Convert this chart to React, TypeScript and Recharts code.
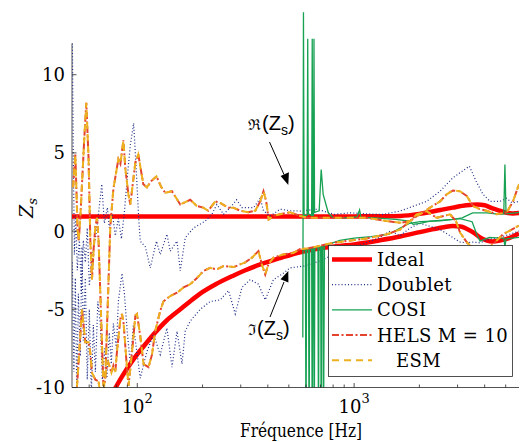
import { LineChart, Line, XAxis, YAxis, ReferenceLine, Legend } from "recharts";

// --- Ideal ---
const idealReFreq = [50, 500, 1000, 1300, 1629, 2000, 2240, 2500, 2850, 3300, 3700, 4000, 4350, 4700, 5050, 5400, 5760];
const idealRe = [0.94, 0.94, 0.94, 0.95, 0.97, 1.1, 1.22, 1.35, 1.5, 1.65, 1.7, 1.65, 1.45, 1.3, 1.17, 1.13, 1.15];
const idealImFreq = [78, 85, 96, 108, 119, 137, 158, 175, 195, 230, 277, 313, 369, 450, 564, 700, 850, 1000, 1300, 1629, 1950, 2240, 2600, 2850, 3100, 3300, 3600, 3808, 4100, 4330, 4700, 5180, 5500, 5760];
const idealIm = [-10.2, -9.3, -8.2, -7.3, -6.6, -5.7, -5.0, -4.5, -4.0, -3.4, -2.85, -2.52, -2.13, -1.75, -1.35, -1.1, -0.95, -0.85, -0.6, -0.35, -0.1, 0.08, 0.25, 0.32, 0.3, 0.15, -0.15, -0.4, -0.6, -0.66, -0.6, -0.45, -0.28, -0.15];

// --- Doublet ---
const doubletReFreq = [50.2, 50.7, 51.3, 52.0, 52.9, 54.1, 55.2, 56.4, 57.6, 58.8, 60.1, 62.1, 64.1, 66.1, 68.6, 70.5, 72.8, 74.3, 76.8, 79.2, 81.8, 84.5, 87.2, 90.0, 92.9, 96.2, 98.4, 101.5, 103.2, 108.9, 114.8, 122.6, 127.6, 137, 141.9, 152.5, 157.8, 166.4, 181.7, 205.8, 220.7, 232.8, 250, 268.3, 287, 304, 344, 369, 382, 410, 456, 507, 564, 675, 810, 958, 1144, 1365, 1629, 1880, 2160, 2491, 2850, 3150, 3400, 3650, 3930, 4235, 4709, 5050, 5360, 5760];
const doubletRe = [12.0, 5.0, -1.5, 1.0, -2.5, -0.5, -4.0, -0.6, -2.0, 0.2, -3.5, -1.5, -0.5, 1.0, 3.0, 0.5, 1.5, 0.2, 1.1, -0.3, 0.8, -0.5, 1.2, 3.5, 5.5, 6.9, 4.5, 0.85, -0.64, -1.0, -2.35, -0.64, -1.5, -0.2, -1.28, -0.64, -2.55, -0.43, 0.2, 0.64, 1.07, 1.7, 1.07, 1.5, 2.0, 1.5, 1.5, 2.1, 1.3, 0.96, 1.4, 1.3, 1.28, 1.4, 1.07, 1.17, 1.1, 1.07, 1.28, 1.6, 1.9, 2.55, 3.4, 3.83, 4.15, 3.2, 2.35, 1.9, 1.9, 2.1, 1.8, 1.9];
const doubletImFreq = [50.2, 51.0, 51.8, 52.6, 53.5, 54.6, 55.6, 56.4, 57.6, 58.8, 60.1, 61.4, 62.7, 64.1, 65.8, 67.6, 69.0, 70.9, 72.4, 74.3, 75.9, 77.6, 80.1, 81.8, 85.0, 87.2, 90.0, 92.9, 95.9, 98.0, 103.2, 110.8, 118.9, 127.6, 137.0, 144.6, 152.5, 160.8, 166.4, 175.5, 195.2, 217, 241.3, 263.6, 283, 304, 331.8, 362, 389, 424.6, 464, 507, 584, 698, 750, 862, 1066, 1318, 1465, 1629, 1812, 2015, 2240, 2491, 2770, 3080, 3300, 3510, 3808, 4235, 4709, 5237, 5760];
const doubletIm = [-2, -9, -3, -10.5, -4, -8, -1, -7, -3, -9.5, -5, -10.5, -6, -9, -4.5, -6, -9.5, -7.5, -9.4, -6.5, -8.5, -5.9, -7.5, -4.5, -2.7, -4.0, -6.5, -8.5, -6.0, -7.0, -9.4, -7.7, -6.6, -7.9, -6.2, -8.7, -6.4, -8.5, -6.4, -5.75, -5.0, -4.5, -4.4, -3.8, -5.3, -3.6, -3.1, -3.4, -4.4, -3.1, -2.77, -2.35, -2.24, -1.9, -1.7, -1.3, -0.9, -0.4, 0.0, -0.3, 0.2, 0.5, 0.3, 0.1, -0.3, -0.7, -0.75, -0.7, -0.75, -0.5, -0.4, -0.2, 0.0];

// --- COSI ---
const cosiReFreq = [580, 584, 588, 607, 611, 615, 637, 641, 645, 650, 653, 657, 690, 705, 720, 760, 800, 900, 1030, 1060, 1075, 1100, 1250, 1550, 1812, 1870, 2015, 2240, 2850, 3150, 3520, 4090, 4709, 4900, 4960, 5020, 5550, 5760];
const cosiRe = [-6.8, 14, 1.0, 1.0, 12.3, 1.1, 1.0, 12.3, 1.0, 1.0, 12.3, 1.2, 1.3, 3.94, 2.35, 1.17, 0.85, 0.85, 0.9, 1.35, 0.9, 0.88, 0.85, 0.75, 0.64, 0.43, 0.5, 0.64, 0.75, 0.85, 1.17, 1.17, 1.07, 1.1, 4.26, 1.1, 1.17, 1.2];
const cosiImFreq = [580, 596, 600, 604, 616, 620, 624, 637, 641, 645, 651, 655, 659, 681, 685, 689, 701, 705, 709, 718, 722, 730, 760, 860, 1000, 1200, 1450, 1630, 1810, 2015, 2490, 3080, 3500, 3700, 3808, 4200, 4709, 4900, 4960, 5020, 5760];
const cosiIm = [-1.2, -1.2, -14, -1.2, -1.2, -14, -1.2, -1.1, -14, -1.1, -1.1, -14, -1.1, -1.0, -14, -1.0, -1.0, -14, -1.0, -1.0, -14, -0.95, -0.85, -0.6, -0.45, -0.35, -0.2, 0.2, 0.5, 0.6, 0.65, 0.8, 0.6, -0.3, -0.64, -0.4, -0.45, -0.45, -1.0, -0.5, -0.4];

// --- HELS M = 10 (ESM lies on top of it) ---
const helsReFreq = [50.6, 51.8, 53.1, 53.7, 54.6, 55.6, 57.0, 58.2, 59.6, 60.75, 61.8, 63.0, 64.1, 65.3, 66.3, 68.3, 69.8, 71.2, 75.1, 77.6, 81.8, 83.6, 86.3, 88.1, 91.0, 92.9, 98.0, 101.1, 106.6, 110.8, 116.0, 122.6, 129.2, 134.6, 144.5, 157.8, 169.4, 175.5, 188.4, 201.5, 212.5, 228.9, 241.3, 262.7, 277.0, 298.4, 324.8, 349.9, 368.9, 382, 393.2, 403.6, 423.6, 456.3, 507.4, 564, 614, 776, 958, 1144, 1415, 1629, 1812, 1945, 2081, 2240, 2491, 2672, 2859, 3080, 3306, 3536, 3808, 4089, 4547, 5056, 5406, 5760];
const helsRe = [2.8, 4.9, 0.0, -0.6, 0.8, 3.0, 6.0, 8.2, 4.7, -0.6, -3.1, -1.0, 0.3, 0.85, -0.6, -6.0, -9.9, -9.5, 0.3, 2.7, 4.6, 4.3, 5.8, 4.0, 2.35, 1.7, 4.4, 4.9, 3.0, 2.8, 3.2, 3.5, 2.8, 2.45, 2.55, 1.7, 1.9, 2.0, 1.6, 1.5, 1.3, 1.9, 1.8, 1.5, 1.5, 1.3, 1.2, 1.3, 1.9, 2.55, 1.9, 0.75, 0.96, 1.08, 1.2, 0.96, 0.85, 0.85, 0.85, 0.85, 0.64, 0.53, 0.64, 0.96, 1.2, 1.5, 1.9, 2.35, 2.6, 2.55, 2.24, 1.6, 1.4, 1.3, 1.08, 1.2, 1.9, 3.0];
const helsImFreq = [50.2, 52.7, 55.6, 56.6, 57.6, 59.7, 60.75, 61.8, 64.1, 66.3, 67.6, 69.7, 71.2, 73.5, 76.0, 77.6, 79.2, 80.5, 83.6, 85.0, 86.5, 89.0, 91.1, 94.5, 98.0, 99.7, 103.2, 106.9, 112.7, 116.9, 121.0, 127.6, 132.0, 141.9, 152.5, 163.5, 175.5, 188.5, 202, 217, 232, 250, 278, 298, 314.7, 338, 362, 375, 389, 403, 425, 470, 524, 564, 617, 800, 1144, 1415, 1629, 1812, 1945, 2160, 2400, 2770, 2950, 3080, 3306, 3520, 4089, 4547, 4870, 5180, 5760];
const helsIm = [-13, -10, -5.0, -6.1, -7.1, -7.1, -7.8, -9.05, -9.5, -9.6, -10.5, -10.5, -9.05, -8.4, -9.05, -8.6, -9.0, -7.8, -5.6, -5.3, -5.9, -8.2, -9.9, -7.8, -5.4, -5.3, -6.7, -8.5, -8.7, -7.9, -6.4, -5.1, -4.5, -4.15, -3.94, -3.6, -3.4, -3.0, -2.55, -2.35, -2.45, -2.24, -2.3, -2.13, -2.0, -1.7, -1.28, -2.1, -2.77, -2.1, -1.7, -1.5, -1.4, -1.15, -1.1, -0.75, -0.47, -0.2, 0.1, 0.64, 1.07, 1.28, 0.85, 1.07, 0.64, -0.1, -0.7, -1.1, -1.2, -0.6, -0.2, 0.0, 0.35];

const esmReFreq = helsReFreq;
const esmRe = helsRe;
const esmImFreq = helsImFreq;
const esmIm = helsIm;

const legendOrder = ["Ideal", "Doublet", "COSI", "HELS M = 10", "ESM"];
const xTicks = [60, 70, 80, 90, 100, 200, 300, 400, 500, 600, 700, 800, 900, 1000, 2000, 3000, 4000, 5000];
const yTicks = [-10, -5, 0, 5, 10];

const AXIS = "#262626";
const SERIF = '"DejaVu Serif", "Liberation Serif", serif';
const SANS = '"Liberation Sans", Arial, sans-serif';

const pts = (f: number[], v: number[]) => f.map((x, i) => ({ f: x, v: v[i] }));

function XTick(props: any) {
  const { x, y, payload } = props;
  const val = payload.value as number;
  const exp = Math.log10(val);
  const major = Math.abs(exp - Math.round(exp)) < 1e-6;
  return (
    <g>
      <line x1={x} x2={x} y1={y} y2={y - (major ? 4.5 : 3)} stroke={AXIS} strokeWidth={0.8} />
      {major && (
        <text x={x} y={y + 25.5} textAnchor="middle" style={{ fontFamily: SERIF }} fontSize={18} fill="#000">
          10
          <tspan dy={-10} fontSize={13}>
            {Math.round(exp)}
          </tspan>
        </text>
      )}
    </g>
  );
}

function YTick(props: any) {
  const { x, y, payload } = props;
  return (
    <g>
      <line x1={x} x2={x + 4.5} y1={y} y2={y} stroke={AXIS} strokeWidth={0.8} />
      <text x={x - 7} y={y + 6.5} textAnchor="end" style={{ fontFamily: SERIF }} fontSize={18} fill="#000">
        {payload.value}
      </text>
    </g>
  );
}

const legendIndent: Record<string, number> = { ESM: 19 };

function LegendBox(props: any) {
  const items = (props.payload || [])
    .filter((p: any) => legendOrder.includes(p.value))
    .sort((a: any, b: any) => legendOrder.indexOf(a.value) - legendOrder.indexOf(b.value));
  return (
    <svg width={185} height={132} style={{ display: "block" }}>
      <rect x={0.5} y={0.5} width={184} height={131} fill="#fff" stroke={AXIS} strokeWidth={0.8} />
      {items.map((p: any, i: number) => {
        const cy = 14.5 + i * 25.2;
        const st = p.payload || {};
        return (
          <g key={p.value}>
            <line
              x1={4}
              x2={44}
              y1={cy}
              y2={cy}
              stroke={p.color}
              strokeWidth={st.strokeWidth}
              strokeDasharray={st.strokeDasharray}
            />
            <text
              x={49 + (legendIndent[p.value] || 0)}
              y={cy + 6.5}
              style={{ fontFamily: SERIF }}
              fontSize={18}
              letterSpacing={0.4}
              fill="#000"
            >
              {p.value}
            </text>
          </g>
        );
      })}
    </svg>
  );
}

export default function App() {
  const W = 520;
  const H = 442;
  return (
    <div style={{ position: "absolute", left: 0, top: 0, width: W, height: H, background: "#fff" }}>
      <LineChart width={W} height={H} margin={{ top: 9, right: 1, left: 0, bottom: 0 }}>
        <XAxis
          dataKey="f"
          type="number"
          scale="log"
          domain={[50, 5760]}
          allowDataOverflow
          ticks={xTicks}
          interval={0}
          height={54.5}
          tickSize={0}
          tickMargin={0}
          tickLine={false}
          tick={<XTick />}
          axisLine={{ stroke: AXIS, strokeWidth: 0.8 }}
        />
        <YAxis
          dataKey="v"
          type="number"
          domain={[-10, 14.2]}
          allowDataOverflow
          ticks={yTicks}
          interval={0}
          width={72}
          tickSize={0}
          tickMargin={0}
          tickLine={false}
          axisLine={false}
          tick={<YTick />}
        />
        <ReferenceLine
          segment={[
            { x: 50, y: -10 },
            { x: 50, y: 12 },
          ]}
          stroke={AXIS}
          strokeWidth={0.8}
          ifOverflow="visible"
        />
        <Legend
          layout="horizontal"
          verticalAlign="middle"
          align="center"
          itemSorter={null as any}
          wrapperStyle={{ left: 328, top: 245, width: 185, height: 132 }}
          content={<LegendBox />}
        />

        <Line name="Ideal" data={pts(idealReFreq, idealRe)} dataKey="v" type="monotone" stroke="#ff0000" strokeWidth={4.5} dot={false} isAnimationActive={false} />
        <Line name="Ideal Im" legendType="none" data={pts(idealImFreq, idealIm)} dataKey="v" type="monotone" stroke="#ff0000" strokeWidth={4.5} dot={false} isAnimationActive={false} />

        <Line name="Doublet" data={pts(doubletReFreq, doubletRe)} dataKey="v" stroke="#1f2d86" strokeWidth={1.2} strokeDasharray="1 2.2" dot={false} isAnimationActive={false} />
        <Line name="Doublet Im" legendType="none" data={pts(doubletImFreq, doubletIm)} dataKey="v" stroke="#1f2d86" strokeWidth={1.2} strokeDasharray="1 2.2" dot={false} isAnimationActive={false} />

        <Line name="COSI" data={pts(cosiReFreq, cosiRe)} dataKey="v" stroke="#17a153" strokeWidth={1.3} dot={false} isAnimationActive={false} />
        <Line name="COSI Im" legendType="none" data={pts(cosiImFreq, cosiIm)} dataKey="v" stroke="#17a153" strokeWidth={1.3} dot={false} isAnimationActive={false} />

        <Line name="HELS M = 10" data={pts(helsReFreq, helsRe)} dataKey="v" stroke="#e4432d" strokeWidth={2} strokeDasharray="7 2.5 2 2.5" dot={false} isAnimationActive={false} />
        <Line name="HELS Im" legendType="none" data={pts(helsImFreq, helsIm)} dataKey="v" stroke="#e4432d" strokeWidth={2} strokeDasharray="7 2.5 2 2.5" dot={false} isAnimationActive={false} />

        <Line name="ESM" data={pts(esmReFreq, esmRe)} dataKey="v" stroke="#edb120" strokeWidth={2} strokeDasharray="7 5" dot={false} isAnimationActive={false} />
        <Line name="ESM Im" legendType="none" data={pts(esmImFreq, esmIm)} dataKey="v" stroke="#edb120" strokeWidth={2} strokeDasharray="7 5" dot={false} isAnimationActive={false} />
      </LineChart>

      <svg width={W} height={H} style={{ position: "absolute", left: 0, top: 0, pointerEvents: "none" }}>
        {/* axis titles */}
        <text
          x={240}
          y={437}
          textLength={122}
          lengthAdjust="spacingAndGlyphs"
          style={{ fontFamily: SERIF }}
          fontSize={18}
          fill="#000"
        >
          Fréquence [Hz]
        </text>
        <text transform="translate(33,208) rotate(-90)" textAnchor="middle" style={{ fontFamily: SERIF, fontStyle: "italic" }} fontSize={19} fill="#000">
          Z<tspan dy={4} fontSize={13}>s</tspan>
        </text>

        {/* Re(Zs) annotation */}
        <text x={248} y={130} style={{ fontFamily: SANS }} fontSize={20} fill="#000">
          <tspan style={{ fontFamily: "DejaVu Serif" }} fontSize={15}>ℜ</tspan>
          <tspan dx={1}>(Z</tspan>
          <tspan dy={5} fontSize={14}>s</tspan>
          <tspan dy={-5}>)</tspan>
        </text>
        <line x1={269.5} y1={142} x2={284} y2={174.5} stroke="#000" strokeWidth={1} />
        <polygon points="288.3,185 280.6,175.9 288.9,172.3" fill="#000" />

        {/* Im(Zs) annotation */}
        <text x={248} y={335} style={{ fontFamily: SANS }} fontSize={20} fill="#000">
          <tspan style={{ fontFamily: "DejaVu Serif" }} fontSize={15}>ℑ</tspan>
          <tspan dx={1}>(Z</tspan>
          <tspan dy={5} fontSize={14}>s</tspan>
          <tspan dy={-5}>)</tspan>
        </text>
        <line x1={270} y1={317} x2={284} y2={282} stroke="#000" strokeWidth={1} />
        <polygon points="288.3,271 288.4,282.5 280.5,279.3" fill="#000" />
      </svg>
    </div>
  );
}
